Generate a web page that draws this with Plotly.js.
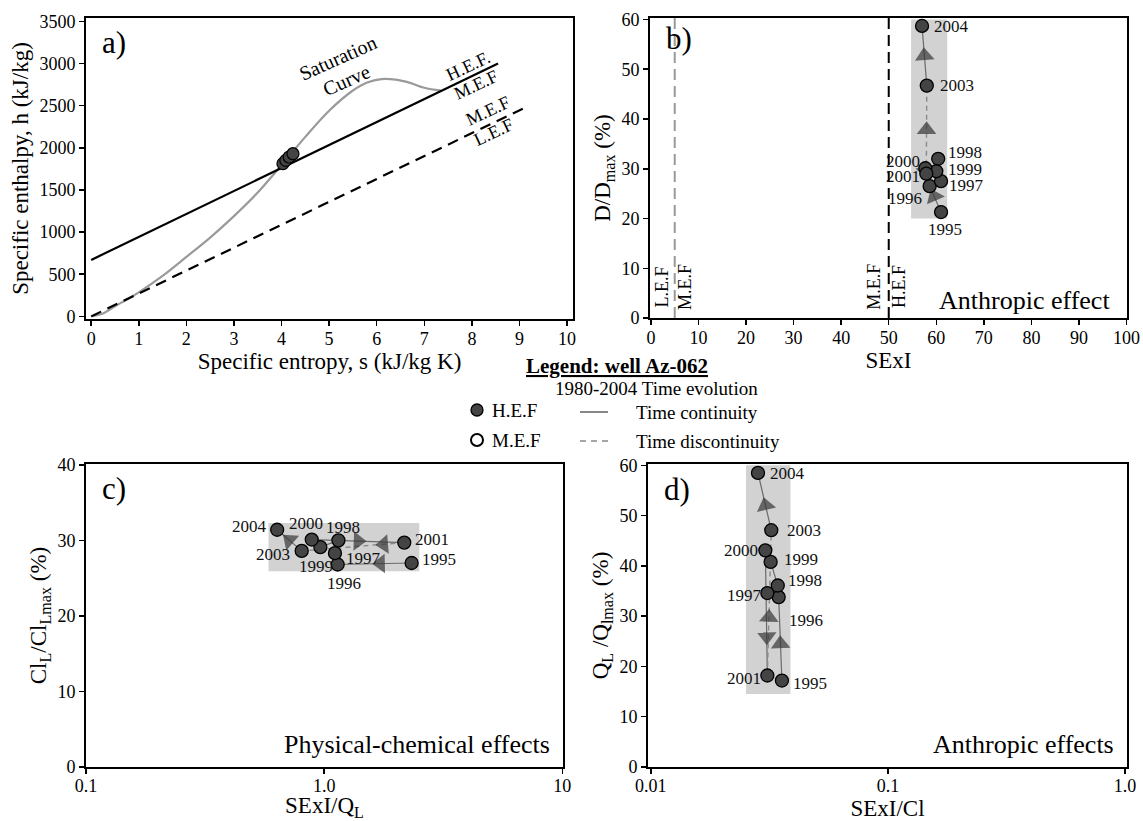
<!DOCTYPE html>
<html><head><meta charset="utf-8">
<script src="https://cdn.plot.ly/plotly-3.0.1.min.js"></script>
<style>html,body{margin:0;padding:0;background:#fff}#chart{width:1143px;height:821px}</style>
</head><body><div id="chart"></div>
<script>
// ---------- Panel a data ----------
const satS = [0.05, 0.25, 0.5, 0.75, 1.0, 1.5, 2.0, 2.5, 3.0, 3.5, 4.0, 4.5, 5.0, 5.5, 5.8, 6.1, 6.4, 6.7, 7.0, 7.35];
const satH = [5, 35, 120, 200, 285, 480, 705, 935, 1190, 1470, 1795, 2130, 2440, 2680, 2775, 2815, 2808, 2770, 2712, 2678];
const hefLineS = [0, 8.55];
const hefLineH = [670, 3000];
const lefLineS = [0, 9.2];
const lefLineH = [0, 2500];
const aPointS = [4.03, 4.09, 4.16, 4.24];
const aPointH = [1812, 1851, 1891, 1930];

// ---------- Years (panels b, c, d) ----------
const years = [1995, 1996, 1997, 1998, 1999, 2000, 2001, 2003, 2004];

// Panel b: SExI vs D/Dmax
const bX = [61.0, 58.6, 61.0, 60.4, 60.0, 57.7, 57.9, 58.0, 57.0];
const bY = [21.3, 26.5, 27.5, 32.0, 29.5, 30.1, 29.0, 46.7, 58.7];
const bBoxX = [54.7, 62.3];
const bBoxY = [20, 60];
const bLimitX = [5, 50];

// Panel c: SExI/QL vs ClL/ClLmax
const cX = [2.33, 1.14, 1.11, 1.148, 0.964, 0.887, 2.17, 0.805, 0.635];
const cY = [27.0, 26.8, 28.3, 30.0, 29.1, 30.1, 29.7, 28.6, 31.4];
const cBoxX = [0.584, 2.51];
const cBoxY = [25.9, 32.3];

// Panel d: SExI/Cl vs QL/Qlmax
const dX = [0.0357, 0.0346, 0.0310, 0.0343, 0.0320, 0.0304, 0.0310, 0.0322, 0.0283];
const dY = [17.2, 33.8, 34.6, 36.1, 40.8, 43.1, 18.2, 47.1, 58.5];
const dBoxX = [0.0252, 0.0388];
const dBoxY = [14.5, 60];

// sequence structure
const continuousYears = [1995, 1996, 1997, 1998, 1999, 2000, 2001];
const lateYears = [2003, 2004];
const gapYears = [2001, 2003];
const arrowPairs = [[1995, 1996], [2000, 2001], [2001, 2003], [2003, 2004]];

// ---------- style config ----------
const FONT = 'Liberation Serif, Times New Roman, serif';
const W = 1143, H = 821;
const xd = (a, b) => [a / W, b / W];
const yd = (t, b) => [1 - b / H, 1 - t / H];

// arrow placement along each segment (fraction from first year)
const arrowFracB = [0.6, 0.5, 0.5, 0.5];
const arrowFracC = [0.42, 0.5, 0.2, 0.5];
const arrowFracD = [0.44, 0.69, 0.4, 0.43];

// year label offsets: [xanchor, xshift, yshift]
const labB = [['center', 4, -17], ['right', -6, -12], ['left', 6, -4], ['left', 8, 6], ['left', 10, 2], ['right', -3, 7], ['right', -4, -3], ['left', 11, 0], ['left', 10, -1]];
const labC = [['left', 8, 3], ['center', 6, -19], ['left', 9, -5], ['center', 5, 13], ['center', -4, -19], ['center', -6, 16], ['left', 9, 3], ['right', -10, -4], ['right', -8, 3]];
const labD = [['left', 9, -3], ['left', 8, -23], ['right', -3, -2], ['left', 8, 5], ['left', 11, 2], ['right', -5, 0], ['right', -4, -3], ['left', 14, 0], ['left', 10, -1]];

function pick(arr, yrs) { return yrs.map(y => arr[years.indexOf(y)]); }

const ann = [];
function A(o) { ann.push(Object.assign({showarrow: false, font: {family: FONT, size: 18, color: '#000'}}, o)); }

function panel(xs, ys, boxX, boxY, xa, ya, logX, fracs, labs) {
  const tr = [];
  tr.push({type: 'scatter', mode: 'lines', xaxis: xa, yaxis: ya, hoverinfo: 'skip',
    x: [boxX[0], boxX[1], boxX[1], boxX[0], boxX[0]], y: [boxY[0], boxY[0], boxY[1], boxY[1], boxY[0]],
    fill: 'toself', fillcolor: '#d2d2d2', line: {width: 0, color: 'rgba(0,0,0,0)'}});
  tr.push({type: 'scatter', mode: 'lines', xaxis: xa, yaxis: ya, hoverinfo: 'skip',
    x: pick(xs, continuousYears), y: pick(ys, continuousYears), line: {color: '#6a6a6a', width: 1.2}});
  tr.push({type: 'scatter', mode: 'lines', xaxis: xa, yaxis: ya, hoverinfo: 'skip',
    x: pick(xs, lateYears), y: pick(ys, lateYears), line: {color: '#6a6a6a', width: 1.2}});
  tr.push({type: 'scatter', mode: 'lines', xaxis: xa, yaxis: ya, hoverinfo: 'skip',
    x: pick(xs, gapYears), y: pick(ys, gapYears), line: {color: '#8a8a8a', width: 1.4, dash: '5px,4px'}});
  const ax = [], ay = [], as = [];
  arrowPairs.forEach(([y0, y1], k) => {
    const i = years.indexOf(y0), j = years.indexOf(y1), f = fracs[k];
    const mx = logX ? Math.pow(10, Math.log10(xs[i]) + f * (Math.log10(xs[j]) - Math.log10(xs[i])))
                    : xs[i] + f * (xs[j] - xs[i]);
    const my = ys[i] + f * (ys[j] - ys[i]);
    ax.push(xs[i], mx); ay.push(ys[i], my); as.push(0, 17);
  });
  tr.push({type: 'scatter', mode: 'markers', xaxis: xa, yaxis: ya, hoverinfo: 'skip', x: ax, y: ay,
    marker: {symbol: 'triangle-up', size: as, color: '#363636', angleref: 'previous', line: {width: 0}}});
  tr.push({type: 'scatter', mode: 'markers', xaxis: xa, yaxis: ya, x: xs, y: ys,
    marker: {size: 13, color: '#444444', line: {color: '#000', width: 1.3}}});
  xs.forEach((v, i) => {
    A({xref: xa, yref: ya, x: logX ? Math.log10(v) : v, y: ys[i], text: String(years[i]),
      xanchor: labs[i][0], yanchor: 'middle', xshift: labs[i][1], yshift: labs[i][2],
      font: {family: FONT, size: 17, color: '#111'}});
  });
  return tr;
}

const traces = [];
// Panel a
traces.push({type: 'scatter', mode: 'lines', x: satS, y: satH, xaxis: 'x', yaxis: 'y',
  line: {color: '#9a9a9a', width: 2.2, shape: 'spline', smoothing: 1}, hoverinfo: 'skip'});
traces.push({type: 'scatter', mode: 'lines', x: hefLineS, y: hefLineH, xaxis: 'x', yaxis: 'y',
  line: {color: '#000', width: 2.2}, hoverinfo: 'skip'});
traces.push({type: 'scatter', mode: 'lines', x: lefLineS, y: lefLineH, xaxis: 'x', yaxis: 'y',
  line: {color: '#000', width: 2.2, dash: '11px,7px'}, hoverinfo: 'skip'});
traces.push({type: 'scatter', mode: 'markers', x: aPointS, y: aPointH, xaxis: 'x', yaxis: 'y',
  marker: {size: 12, color: '#444444', line: {color: '#000', width: 1.2}}});
// Panel b limits
traces.push({type: 'scatter', mode: 'lines', x: [bLimitX[0], bLimitX[0]], y: [0, 60.3], xaxis: 'x2', yaxis: 'y2',
  line: {color: '#999999', width: 2, dash: '11px,6px'}, hoverinfo: 'skip'});
traces.push({type: 'scatter', mode: 'lines', x: [bLimitX[1], bLimitX[1]], y: [0, 60.3], xaxis: 'x2', yaxis: 'y2',
  line: {color: '#000', width: 2, dash: '11px,6px'}, hoverinfo: 'skip'});
traces.push(...panel(bX, bY, bBoxX, bBoxY, 'x2', 'y2', false, arrowFracB, labB));
traces.push(...panel(cX, cY, cBoxX, cBoxY, 'x3', 'y3', true, arrowFracC, labC));
traces.push(...panel(dX, dY, dBoxX, dBoxY, 'x4', 'y4', true, arrowFracD, labD));

const tickFont = {family: FONT, size: 18, color: '#000'};
const titleFont = {family: FONT, size: 23, color: '#000'};
function axis(extra) {
  return Object.assign({showgrid: false, zeroline: false, showline: true, linewidth: 2, linecolor: '#000',
    mirror: true, ticks: 'outside', ticklen: 5, tickwidth: 1.5, tickcolor: '#000', tickfont: tickFont,
    automargin: false}, extra);
}

const letterFont = {family: FONT, size: 31, color: '#000'};
A({xref: 'x domain', yref: 'y domain', x: 0.029, y: 0.917, xanchor: 'left', yanchor: 'middle', text: 'a)', font: letterFont});
A({xref: 'x2 domain', yref: 'y2 domain', x: 0.03, y: 0.93, xanchor: 'left', yanchor: 'middle', text: 'b)', font: letterFont});
A({xref: 'x3 domain', yref: 'y3 domain', x: 0.029, y: 0.92, xanchor: 'left', yanchor: 'middle', text: 'c)', font: letterFont});
A({xref: 'x4 domain', yref: 'y4 domain', x: 0.03, y: 0.915, xanchor: 'left', yanchor: 'middle', text: 'd)', font: letterFont});
// panel a texts
A({xref: 'x', yref: 'y', x: 5.18, y: 3060, text: 'Saturation', textangle: -24, font: {family: FONT, size: 20, color: '#000'}});
A({xref: 'x', yref: 'y', x: 5.37, y: 2800, text: 'Curve', textangle: -24, font: {family: FONT, size: 20, color: '#000'}});
A({xref: 'x', yref: 'y', x: 7.92, y: 2975, text: 'H.E.F.', textangle: -25, font: {family: FONT, size: 18, color: '#000'}});
A({xref: 'x', yref: 'y', x: 8.08, y: 2745, text: 'M.E.F', textangle: -25, font: {family: FONT, size: 18, color: '#000'}});
A({xref: 'x', yref: 'y', x: 8.33, y: 2435, text: 'M.E.F', textangle: -25, font: {family: FONT, size: 18, color: '#000'}});
A({xref: 'x', yref: 'y', x: 8.46, y: 2190, text: 'L.E.F', textangle: -25, font: {family: FONT, size: 18, color: '#000'}});
// panel b limit labels
const limFont = {family: FONT, size: 18, color: '#000'};
A({xref: 'x2', yref: 'y2', x: 2.3, y: 6.3, text: 'L.E.F', textangle: -90, font: limFont});
A({xref: 'x2', yref: 'y2', x: 7.0, y: 6.3, text: 'M.E.F', textangle: -90, font: limFont});
A({xref: 'x2', yref: 'y2', x: 46.9, y: 6.3, text: 'M.E.F', textangle: -90, font: limFont});
A({xref: 'x2', yref: 'y2', x: 52.0, y: 6.3, text: 'H.E.F', textangle: -90, font: limFont});
// effects
const effFont = {family: FONT, size: 26, color: '#000'};
A({xref: 'x2 domain', yref: 'y2 domain', x: 0.969, y: 0.06, xanchor: 'right', yanchor: 'middle', text: 'Anthropic effect', font: effFont});
A({xref: 'x3 domain', yref: 'y3 domain', x: 0.977, y: 0.073, xanchor: 'right', yanchor: 'middle', text: 'Physical-chemical effects', font: effFont});
A({xref: 'x4 domain', yref: 'y4 domain', x: 0.976, y: 0.073, xanchor: 'right', yanchor: 'middle', text: 'Anthropic effects', font: effFont});
// legend
const py = p => 1 - p / H, px = p => p / W;
A({xref: 'paper', yref: 'paper', x: px(617), y: py(366), yanchor: 'middle', text: '<b><u>Legend: well Az-062</u></b>', font: {family: FONT, size: 21, color: '#000'}});
A({xref: 'paper', yref: 'paper', x: px(553), y: py(388), xanchor: 'left', yanchor: 'middle', text: '1980-2004 Time evolution', font: {family: FONT, size: 19, color: '#000'}});
A({xref: 'paper', yref: 'paper', x: px(490), y: py(410), xanchor: 'left', yanchor: 'middle', text: 'H.E.F', font: {family: FONT, size: 19, color: '#000'}});
A({xref: 'paper', yref: 'paper', x: px(490), y: py(440), xanchor: 'left', yanchor: 'middle', text: 'M.E.F', font: {family: FONT, size: 19, color: '#000'}});
A({xref: 'paper', yref: 'paper', x: px(634), y: py(412), xanchor: 'left', yanchor: 'middle', text: 'Time continuity', font: {family: FONT, size: 19, color: '#000'}});
A({xref: 'paper', yref: 'paper', x: px(634), y: py(441), xanchor: 'left', yanchor: 'middle', text: 'Time discontinuity', font: {family: FONT, size: 19, color: '#000'}});

const shapes = [
  {type: 'circle', xref: 'paper', yref: 'paper', x0: px(471), x1: px(483), y0: py(416), y1: py(404), fillcolor: '#444444', line: {color: '#000', width: 1.3}},
  {type: 'circle', xref: 'paper', yref: 'paper', x0: px(471), x1: px(483), y0: py(446), y1: py(434), fillcolor: '#fff', line: {color: '#000', width: 2}},
  {type: 'line', xref: 'paper', yref: 'paper', x0: px(580), x1: px(608), y0: py(412), y1: py(412), line: {color: '#888', width: 2}},
  {type: 'line', xref: 'paper', yref: 'paper', x0: px(580), x1: px(608), y0: py(441), y1: py(441), line: {color: '#888', width: 1.5, dash: '6px,5px'}}
];

const layout = {
  width: W, height: H, margin: {l: 0, r: 0, t: 0, b: 0}, showlegend: false,
  paper_bgcolor: '#fff', plot_bgcolor: '#fff', font: {family: FONT, color: '#000'},
  xaxis: axis({domain: xd(86, 573), range: [-0.109, 10.125], dtick: 1, anchor: 'y', ticklabelstandoff: -3,
    title: {text: 'Specific entropy, s (kJ/kg K)', font: titleFont, standoff: 2}}),
  yaxis: axis({domain: yd(18, 319), range: [-31, 3540], dtick: 500, anchor: 'x',
    title: {text: 'Specific enthalpy, h (kJ/kg)', font: titleFont, standoff: 4}}),
  xaxis2: axis({domain: xd(650, 1127), range: [-0.2, 100.1], dtick: 10, anchor: 'y2', ticklabelstandoff: -3,
    title: {text: 'SExI', font: titleFont, standoff: 2}}),
  yaxis2: axis({domain: yd(18, 318), range: [0, 60.3], dtick: 10, anchor: 'x2',
    title: {text: 'D/D<sub>max</sub> (%)', font: titleFont, standoff: 4}}),
  xaxis3: axis({domain: xd(86, 563), type: 'log', range: [-1, 1.003], tickvals: [0.1, 1, 10], ticktext: ['0.1', '1.0', '10'], anchor: 'y3', ticklabelstandoff: -4,
    title: {text: 'SExI/Q<sub>L</sub>', font: titleFont, standoff: 8}}),
  yaxis3: axis({domain: yd(464, 767), range: [0, 40.1], dtick: 10, anchor: 'x3',
    title: {text: 'Cl<sub>L</sub>/Cl<sub>Lmax</sub> (%)', font: titleFont, standoff: 4}}),
  xaxis4: axis({domain: xd(648, 1127), type: 'log', range: [-2.012, 0.008], tickvals: [0.01, 0.1, 1], ticktext: ['0.01', '0.1', '1.0'], anchor: 'y4', ticklabelstandoff: -4,
    title: {text: 'SExI/Cl', font: titleFont, standoff: 8}}),
  yaxis4: axis({domain: yd(464, 767), range: [0, 60.27], dtick: 10, anchor: 'x4',
    title: {text: 'Q<sub>L</sub> /Q<sub>lmax</sub> (%)', font: titleFont, standoff: 4}}),
  annotations: ann, shapes: shapes
};

Plotly.newPlot('chart', traces, layout, {staticPlot: true, displayModeBar: false});
</script></body></html>
